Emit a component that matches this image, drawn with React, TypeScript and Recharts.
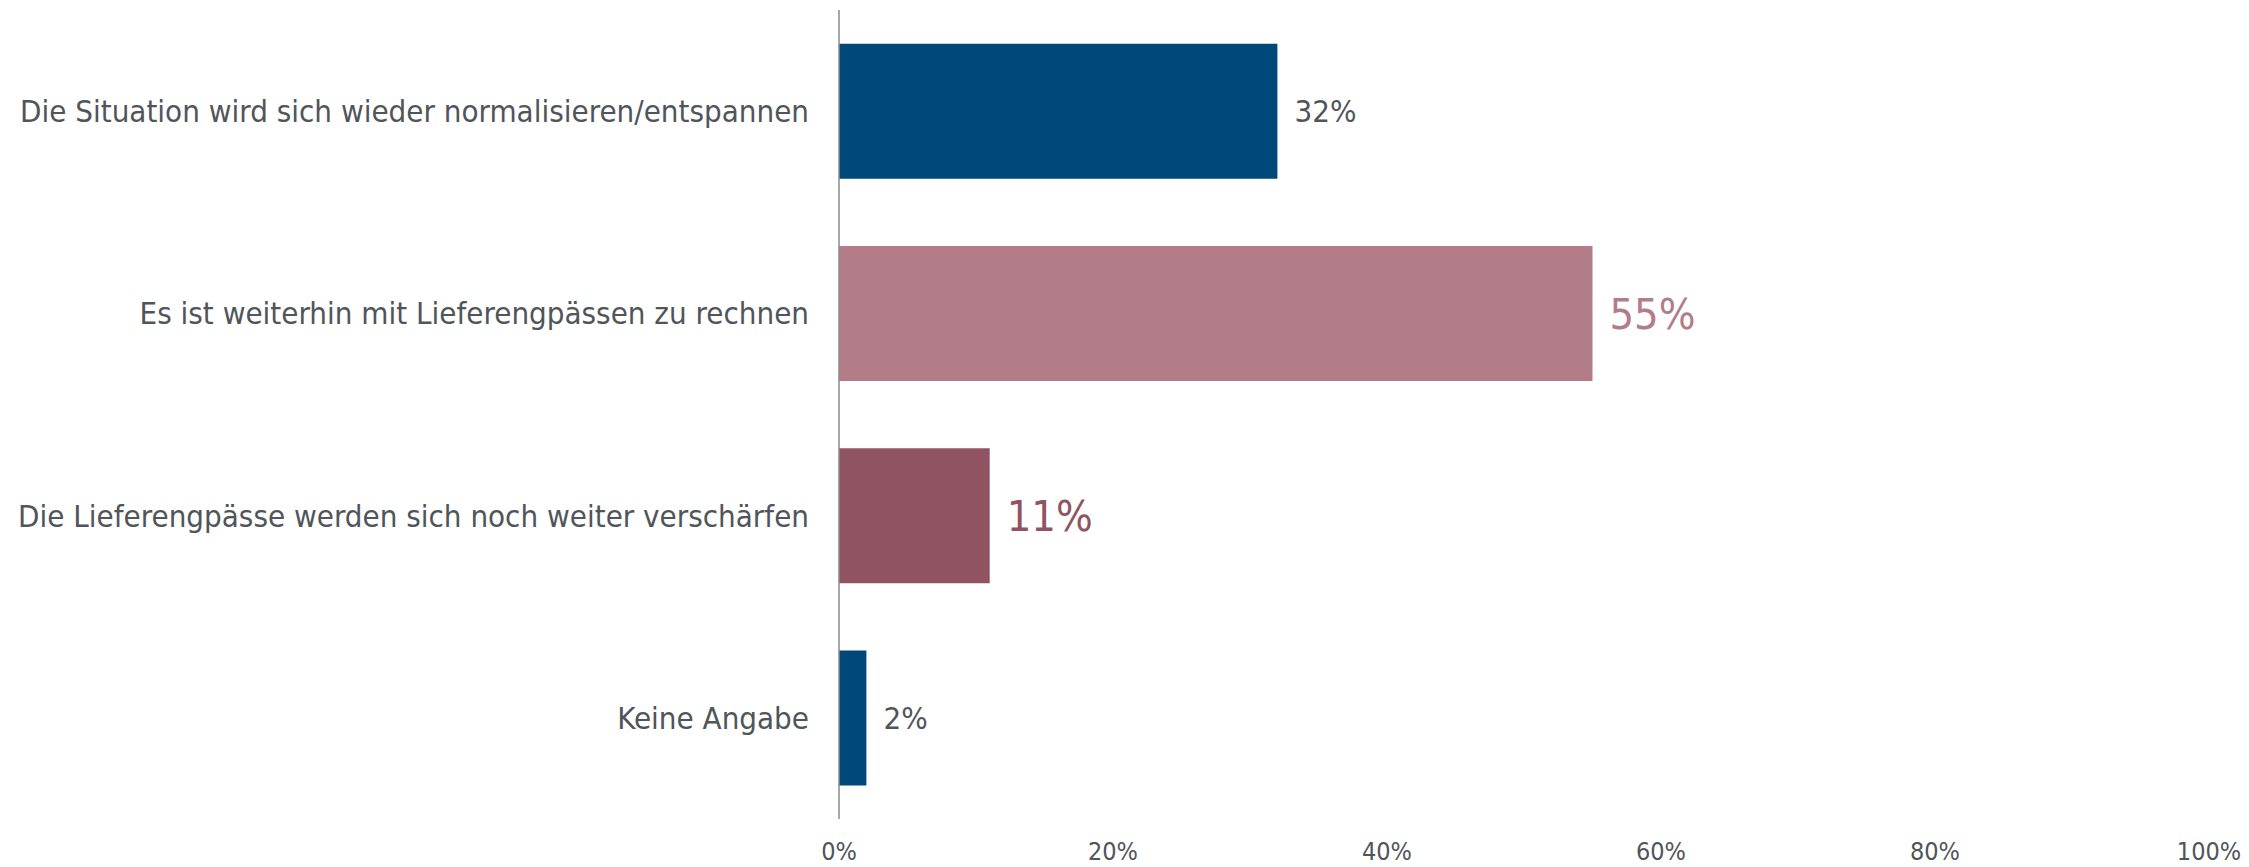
import { BarChart, Bar, XAxis, YAxis, Cell, LabelList } from 'recharts'

const CATEGORIES = [
  'Die Situation wird sich wieder normalisieren/entspannen',
  'Es ist weiterhin mit Lieferengpässen zu rechnen',
  'Die Lieferengpässe werden sich noch weiter verschärfen',
  'Keine Angabe',
]
const SHARES = [32, 55, 11, 2]
const X_TICKS = [0, 20, 40, 60, 80, 100]

const BAR_COLORS = ['#00477a', '#b27c89', '#8f5362', '#00477a']
const LABEL_COLORS = ['#50555a', '#b27c89', '#8f5362', '#50555a']
const LABEL_SIZES = [31, 43, 43, 31]

const FONT = '"DejaVu Sans Condensed", "DejaVu Sans", sans-serif'
const TEXT = '#50555a'

const data = CATEGORIES.map((name, i) => ({ name, share: SHARES[i] }))

function ValueLabel(props: any) {
  const { x, y, width, height, index, value } = props
  return (
    <text
      x={x + width + 17}
      y={y + height / 2}
      dy="0.36em"
      fill={LABEL_COLORS[index]}
      fontSize={LABEL_SIZES[index]}
      fontFamily={FONT}
      fontStretch="condensed"
    >
      {value}%
    </text>
  )
}

export default function App() {
  return (
    <div style={{ position: 'absolute', left: 0, top: 0, background: '#fff' }}>
      <BarChart
        width={2249}
        height={867}
        data={data}
        layout="vertical"
        margin={{ top: 10, right: 40, bottom: 0, left: 0 }}
        barCategoryGap="16.7%"
      >
        <XAxis
          type="number"
          domain={[0, 100]}
          ticks={X_TICKS}
          tickFormatter={v => `${v}%`}
          axisLine={false}
          tickLine={false}
          tickSize={0}
          tickMargin={23}
          height={48}
          tick={{ fontSize: 25, fill: TEXT, fontFamily: FONT, fontStretch: 'condensed' }}
        />
        <YAxis
          type="category"
          dataKey="name"
          width={839}
          axisLine={{ stroke: '#8a8a8a', strokeWidth: 1.5 }}
          tickLine={false}
          tickSize={0}
          tickMargin={30}
          interval={0}
          tick={{ fontSize: 31, fill: TEXT, fontFamily: FONT, fontStretch: 'condensed' }}
        />
        <Bar dataKey="share" isAnimationActive={false}>
          {data.map((d, i) => (
            <Cell key={d.name} fill={BAR_COLORS[i]} />
          ))}
          <LabelList dataKey="share" content={ValueLabel} />
        </Bar>
      </BarChart>
    </div>
  )
}
